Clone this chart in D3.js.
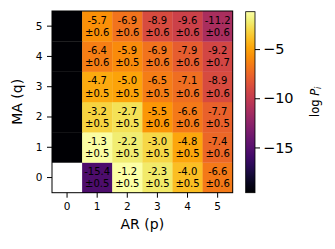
<!DOCTYPE html>
<html>
<head>
<meta charset="utf-8">
<script src="https://cdn.jsdelivr.net/npm/d3@7"></script>
<style>
body { margin: 0; background: #fff; }
svg { font-family: "DejaVu Sans", sans-serif; }
</style>
</head>
<body>
<svg id="chart" width="335" height="249"></svg>
<script>
// AR order p = 0..5, MA order q = 0..5
var arOrders = [0, 1, 2, 3, 4, 5];
var maOrders = [0, 1, 2, 3, 4, 5];
// logP[q][p]; null = not fitted, column p=0 sits at the colour floor
var logP = [
	[null,  -15.4, -1.2, -2.3, -4.0, -6.6],
	[-19.6, -1.3,  -2.2, -3.0, -4.8, -7.4],
	[-19.6, -3.2,  -2.7, -5.5, -6.6, -7.7],
	[-19.6, -4.7,  -5.0, -6.5, -7.1, -8.9],
	[-19.6, -6.4,  -5.9, -6.9, -7.9, -9.2],
	[-19.6, -5.7,  -6.9, -8.9, -9.6, -11.2]
];
var logPErr = [
	[null, 0.5, 0.5, 0.5, 0.5, 0.6],
	[null, 0.5, 0.5, 0.5, 0.5, 0.6],
	[null, 0.5, 0.5, 0.6, 0.6, 0.5],
	[null, 0.5, 0.5, 0.5, 0.6, 0.6],
	[null, 0.6, 0.5, 0.6, 0.6, 0.7],
	[null, 0.6, 0.6, 0.6, 0.6, 0.6]
];
var colorTicks = [-5, -10, -15];
var vmin = -19.6, vmax = -1.2;

var svg = d3.select("#chart");
var plotLeft = 52, plotTop = 11, plotRight = 232.7, plotBottom = 192.7;

var x = d3.scaleBand().domain(arOrders).range([plotLeft, plotRight]);
var y = d3.scaleBand().domain(maOrders).range([plotBottom, plotTop]);
var color = d3.scaleSequential(d3.interpolateInferno).domain([vmin, vmax]).clamp(true);

var cells = [];
maOrders.forEach(function(q, i){
	arOrders.forEach(function(p, j){
		cells.push({p: p, q: q, v: logP[i][j], e: logPErr[i][j]});
	});
});

// Draw cells
svg.append("g").selectAll("rect")
	.data(cells)
	.enter()
		.append("rect")
		.attr("x", function(d){ return x(d.p); })
		.attr("y", function(d){ return y(d.q); })
		.attr("width", x.bandwidth() + 0.3)
		.attr("height", y.bandwidth() + 0.3)
		.attr("fill", function(d){ return d.v === null ? "white" : color(d.v); });

// Cell labels
var lab = svg.append("g").attr("font-size", "10px").attr("text-anchor", "middle").attr("fill", "black");
cells.filter(function(d){ return d.e !== null; }).forEach(function(d){
	var cx = x(d.p) + x.bandwidth() / 2, cyy = y(d.q) + y.bandwidth() / 2;
	lab.append("text").attr("x", cx).attr("y", cyy - 6).attr("dy", "0.36em").text(d.v.toFixed(1));
	lab.append("text").attr("x", cx).attr("y", cyy + 6.3).attr("dy", "0.36em").text("\u00b1" + d.e.toFixed(1));
});

// Frame
svg.append("rect")
	.attr("x", plotLeft).attr("y", plotTop)
	.attr("width", plotRight - plotLeft).attr("height", plotBottom - plotTop)
	.attr("fill", "none").attr("stroke", "black").attr("stroke-width", 1);

// Axes
var xAxis = svg.append("g").attr("transform", "translate(0," + plotBottom + ")")
	.call(d3.axisBottom(x).tickSize(5).tickPadding(5));
var yAxis = svg.append("g").attr("transform", "translate(" + plotLeft + ",0)")
	.call(d3.axisLeft(y).tickSize(5).tickPadding(4.5));
[xAxis, yAxis].forEach(function(a){
	a.select(".domain").remove();
	a.attr("font-size", null).attr("font-family", null);
	a.selectAll("text").attr("font-size", "10.5px").attr("fill", "black");
	a.selectAll("line").attr("stroke", "black");
});

svg.append("text")
	.attr("x", (plotLeft + plotRight) / 2).attr("y", 229)
	.attr("text-anchor", "middle").attr("font-size", "14px")
	.text("AR (p)");
svg.append("text")
	.attr("transform", "translate(22," + ((plotTop + plotBottom) / 2) + ") rotate(-90)")
	.attr("text-anchor", "middle").attr("font-size", "14px")
	.text("MA (q)");

// Colorbar
var cbLeft = 245.7, cbWidth = 9.3;
var cbScale = d3.scaleLinear().domain([vmin, vmax]).range([plotBottom, 11.7]);
var defs = svg.append("defs");
var grad = defs.append("linearGradient").attr("id", "cbgrad")
	.attr("x1", 0).attr("y1", 1).attr("x2", 0).attr("y2", 0);
d3.range(0, 1.0001, 0.05).forEach(function(t){
	grad.append("stop").attr("offset", t).attr("stop-color", d3.interpolateInferno(t));
});
svg.append("rect")
	.attr("x", cbLeft).attr("y", cbScale(vmax))
	.attr("width", cbWidth).attr("height", cbScale(vmin) - cbScale(vmax))
	.attr("fill", "url(#cbgrad)")
	.attr("stroke", "black").attr("stroke-width", 0.8);
var cbAxis = svg.append("g").attr("transform", "translate(" + (cbLeft + cbWidth) + ",0)")
	.call(d3.axisRight(cbScale).tickValues(colorTicks).tickSize(5).tickPadding(3)
		.tickFormat(function(d){ return "\u2212" + Math.abs(d); }));
cbAxis.select(".domain").remove();
cbAxis.attr("font-size", null).attr("font-family", null);
cbAxis.selectAll("text").attr("font-size", "14.5px").attr("fill", "black");
cbAxis.selectAll("line").attr("stroke", "black");

var cbLabel = svg.append("text")
	.attr("transform", "translate(319," + ((plotTop + plotBottom) / 2) + ") rotate(-90)")
	.attr("text-anchor", "middle").attr("font-size", "11.5px");
cbLabel.append("tspan").text("log ");
cbLabel.append("tspan").attr("font-style", "italic").text("P");
cbLabel.append("tspan").attr("font-style", "italic").attr("font-size", "8px").attr("dy", "2").text("i");
</script>
</body>
</html>
